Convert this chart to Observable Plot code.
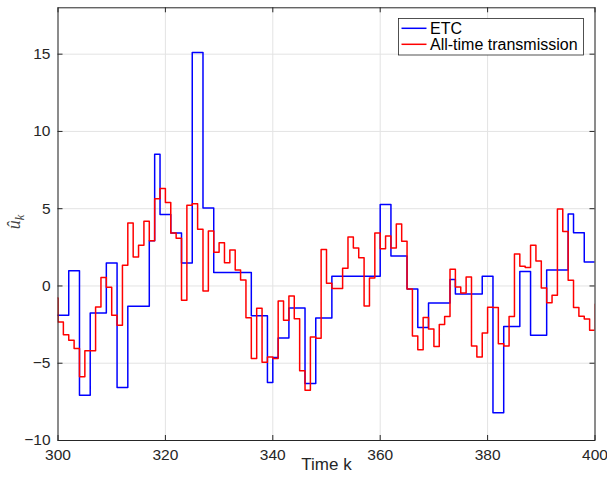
<!DOCTYPE html>
<html><head><meta charset="utf-8">
<script src="https://cdn.jsdelivr.net/npm/d3@7"></script>
<script src="https://cdn.jsdelivr.net/npm/@observablehq/plot@0.6"></script>
<style>
body{margin:0;background:#fff}
#chart{position:relative;width:607px;height:478px}
</style>
</head><body><div id="chart"></div>
<script>
// ETC: transmission instants and held values
const etcK = [299,302,304,306,309,311,313,317,318,319,321,323,325,327,329,336,339,340,341,343,346,348,351,360,362,365,367,369,373,374,379,381,383,386,388,391,395,396,398,400];
const etcU = [-1.9,0.98,-7.07,-1.75,1.49,-6.57,-1.32,2.93,8.52,4.62,3.43,1.49,15.1,5.05,0.87,-1.93,-6.25,-4.63,-3.36,-1.42,-6.31,-2.07,0.63,5.27,1.94,-0.19,-2.69,-1.1,0.42,-0.52,0.63,-8.2,-2.63,0.93,-3.19,1.04,4.66,3.45,1.55,1.55];
// All-time transmission
const allK = [299,300,301,302,303,304,305,306,307,308,309,310,311,312,313,314,315,316,317,318,319,320,321,322,323,324,325,326,327,328,329,330,331,332,333,334,335,336,337,338,339,340,341,342,343,344,345,346,347,348,349,350,351,352,353,354,355,356,357,358,359,360,361,362,363,364,365,366,367,368,369,370,371,372,373,374,375,376,377,378,379,380,381,382,383,384,385,386,387,388,389,390,391,392,393,394,395,396,397,398,399,400];
const allU = [-0.78,-2.33,-3.15,-3.51,-4.05,-5.88,-4.2,-4.2,-1.36,0.54,-0.08,-1.9,-2.55,1.34,4.08,1.88,2.63,4.19,2.93,5.65,6.3,5.4,3.43,3.08,-0.93,5.23,5.32,3.67,-0.32,3.56,2.18,2.8,1.51,2.33,1.04,0.39,-2.05,-4.7,-1.44,-4.94,-4.59,-4.7,-0.97,-2.22,-0.65,-2.12,-5.48,-6.75,-3.3,-3.38,2.36,0.17,-0.17,-0.17,1.14,3.17,2.46,1.82,-1.29,0.52,3.42,2.41,3.23,2.46,4.01,2.9,-0.19,-3.24,-4.12,-2.04,-2.79,-3.92,-2.5,-1.97,1.08,-0.06,-0.45,0.58,-3.89,-4.59,-3.04,-1.37,-1.4,-3.74,-3.89,-1.98,2.07,1.27,1.2,2.63,1.62,-0.13,-1.08,-0.6,4.98,3.52,0.37,-1.4,-1.96,-2.13,-2.87,-1.19];
const xTicks = [300,320,340,360,380,400];
const yTicks = [-10,-5,0,5,10,15];
const seriesNames = ["ETC","All-time transmission"];
const seriesColors = ["#0000ff","#ff0000"];

const etcData = etcK.map((k,i)=>({k, u: etcU[i]}));
const allData = allK.map((k,i)=>({k, u: allU[i]}));

const W=607, H=478, mL=57.5, mR=12.5, mT=7.3, mB=38;
const plotW = W-mL-mR, plotH = H-mT-mB;
const ink = "#262626";
const font = "'Liberation Sans', Arial, Helvetica, sans-serif";

const plot = Plot.plot({
  width: W, height: H,
  marginLeft: mL, marginRight: mR, marginTop: mT, marginBottom: mB,
  style: {fontFamily: font, fontSize: "15.5px", color: ink, background: "#fff"},
  x: {domain: [300, 400], ticks: xTicks},
  y: {domain: [-10, 18], ticks: yTicks},
  marks: [
    Plot.gridX(xTicks, {stroke: "#e3e3e3", strokeOpacity: 1}),
    Plot.gridY(yTicks, {stroke: "#e3e3e3", strokeOpacity: 1}),
    Plot.line(etcData, {x: "k", y: "u", curve: "step-after", stroke: seriesColors[0], strokeWidth: 1.5, clip: true}),
    Plot.line(allData, {x: "k", y: "u", curve: "step-after", stroke: seriesColors[1], strokeWidth: 1.5, clip: true}),
    Plot.frame({stroke: ink, strokeWidth: 1}),
    Plot.tickY(yTicks, {y: d=>d, stroke: ink, insetRight: plotW-5}),
    Plot.tickY(yTicks, {y: d=>d, stroke: ink, insetLeft: plotW-5}),
    Plot.tickX(xTicks, {x: d=>d, stroke: ink, insetTop: plotH-5}),
    Plot.tickX(xTicks, {x: d=>d, stroke: ink, insetBottom: plotH-5}),
    Plot.axisX(xTicks, {tickSize: 0, tickPadding: 8, label: null, fontSize: 15.5, fill: ink}),
    Plot.axisY(yTicks, {tickSize: 0, tickPadding: 7.5, label: null, fontSize: 15.5, fill: ink}),
    Plot.text(["Time k"], {frameAnchor: "bottom", dy: 29, fontSize: 17, fill: ink})
  ]
});
document.getElementById("chart").appendChild(plot);

const svg = d3.select(plot);
// y label: û_k
const yl = svg.append("text")
  .attr("transform", "translate(20,222) rotate(-90)")
  .attr("text-anchor", "middle")
  .attr("font-family", "'Liberation Serif', 'DejaVu Serif', serif")
  .attr("font-style", "italic")
  .attr("font-size", 18)
  .attr("fill", "#444");
yl.append("tspan").text("û");
yl.append("tspan").attr("font-size", 12.5).attr("dy", 4).text("k");

// legend
const lg = svg.append("g").attr("text-anchor", "start");
lg.append("rect").attr("x", 398.5).attr("y", 18.5).attr("width", 185).attr("height", 36.5)
  .attr("fill", "#fff").attr("stroke", ink).attr("stroke-width", 0.8);
seriesNames.forEach((name, i) => {
  const cy = 28.3 + i*16;
  lg.append("line").attr("x1", 401.5).attr("x2", 426.5).attr("y1", cy).attr("y2", cy)
    .attr("stroke", seriesColors[i]).attr("stroke-width", 1.5);
  lg.append("text").attr("x", 430).attr("y", cy).attr("dy", "0.36em")
    .attr("text-anchor", "start")
    .attr("font-family", font).attr("font-size", 16).attr("fill", "#000").text(name);
});
</script>
</body></html>
